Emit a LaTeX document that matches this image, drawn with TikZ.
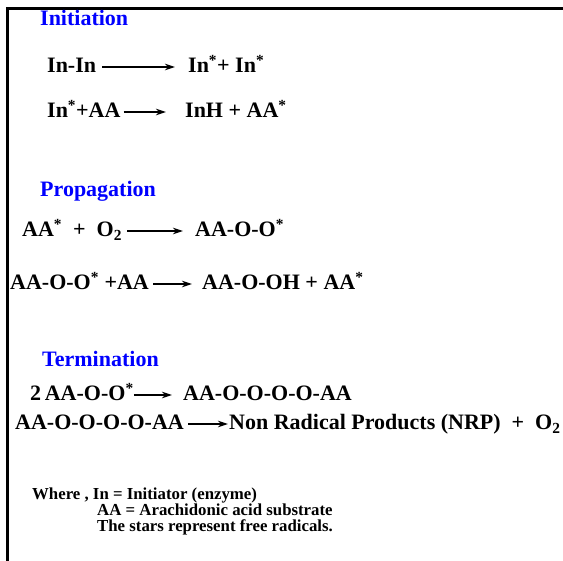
\documentclass[tikz,border=0pt]{standalone}
\usepackage{fontspec}
\setmainfont{Liberation Serif}
\usetikzlibrary{arrows.meta}
\definecolor{rxblue}{HTML}{0000FF}
\definecolor{rxink}{HTML}{000000}
\newcommand{\rxstar}{\textsuperscript{*}}
\newcommand{\rxsub}[1]{\textsubscript{#1}}

\begin{document}
\begin{tikzpicture}[
    x=1pt, y=-1pt,
    % ---- shared styles ---------------------------------------------------
    frame/.style={draw=rxink, line width=3pt, line join=miter},
    hdr/.style={font=\fontsize{22}{26}\selectfont\bfseries, text=rxblue,
                anchor=base west, inner sep=0pt},
    eqn/.style={font=\fontsize{22}{26}\selectfont\bfseries, text=rxink,
                anchor=base west, inner sep=0pt},
    note/.style={font=\fontsize{16.8}{18}\selectfont\bfseries, text=rxink,
                 anchor=base west, inner sep=0pt},
    rxn/.style={-{Stealth[length=10pt, width=6.5pt]}, draw=rxink,
                line width=1.1pt},
  ]
\useasboundingbox (0,0) rectangle (563,561);

% frame on the left and top
\draw[frame] (7.5,561) -- (7.5,8.5) -- (563,8.5);

% =========================================================================
% INITIATION
% =========================================================================
\node[hdr] (init) at (40,26) {Initiation};

\node[eqn] (i1a) at (47,73) {In-In};
\node[eqn] (i1b) at (188,73) {In\rxstar+ In\rxstar};
\draw[rxn, shorten <=6pt, shorten >=13pt]
  ([yshift=6pt]i1a.base east) -- ([yshift=6pt]i1b.base west);

\node[eqn] (i2a) at (47,118) {In\rxstar+AA};
\node[eqn] (i2b) at (185,118) {InH + AA\rxstar};
\draw[rxn, shorten <=3pt, shorten >=19pt]
  ([yshift=6pt]i2a.base east) -- ([yshift=6pt]i2b.base west);

% =========================================================================
% PROPAGATION
% =========================================================================
\node[hdr] (prop) at (40,197) {Propagation};

\node[eqn] (p1a) at (22,237) {AA\rxstar\ \ +\ \ O\rxsub{2}};
\node[eqn] (p1b) at (195,237) {AA-O-O\rxstar};
\draw[rxn, shorten <=5pt, shorten >=12pt]
  ([yshift=6pt]p1a.base east) -- ([yshift=6pt]p1b.base west);

\node[eqn] (p2a) at (10,290) {AA-O-O\rxstar\ +AA};
\node[eqn] (p2b) at (202,290) {AA-O-OH + AA\rxstar};
\draw[rxn, shorten <=4pt, shorten >=10pt]
  ([yshift=6pt]p2a.base east) -- ([yshift=6pt]p2b.base west);

% =========================================================================
% TERMINATION
% =========================================================================
\node[hdr] (term) at (42,367) {Termination};

\node[eqn] (t1a) at (30,401) {2\,AA-O-O\rxstar};
\node[eqn] (t1b) at (183,401) {AA-O-O-O-O-AA};
\draw[rxn, shorten <=0pt, shorten >=11pt]
  ([yshift=6pt]t1a.base east) -- ([yshift=6pt]t1b.base west);

\node[eqn] (t2a) at (15,430) {AA-O-O-O-O-AA};
\node[eqn] (t2b) at (229,430) {Non Radical Products (NRP)\ \ +\ \ O\rxsub{2}};
\draw[rxn, shorten <=4pt, shorten >=1pt]
  ([yshift=6pt]t2a.base east) -- ([yshift=6pt]t2b.base west);

% =========================================================================
% FOOT -- key to the symbols
% =========================================================================
\node[note] (key1) at (32,500) {Where , In = Initiator (enzyme)};
\node[note] (key2) at (97,516) {AA = Arachidonic acid substrate};
\node[note] (key3) at (97,532) {The stars represent free radicals.};

\end{tikzpicture}
\end{document}
